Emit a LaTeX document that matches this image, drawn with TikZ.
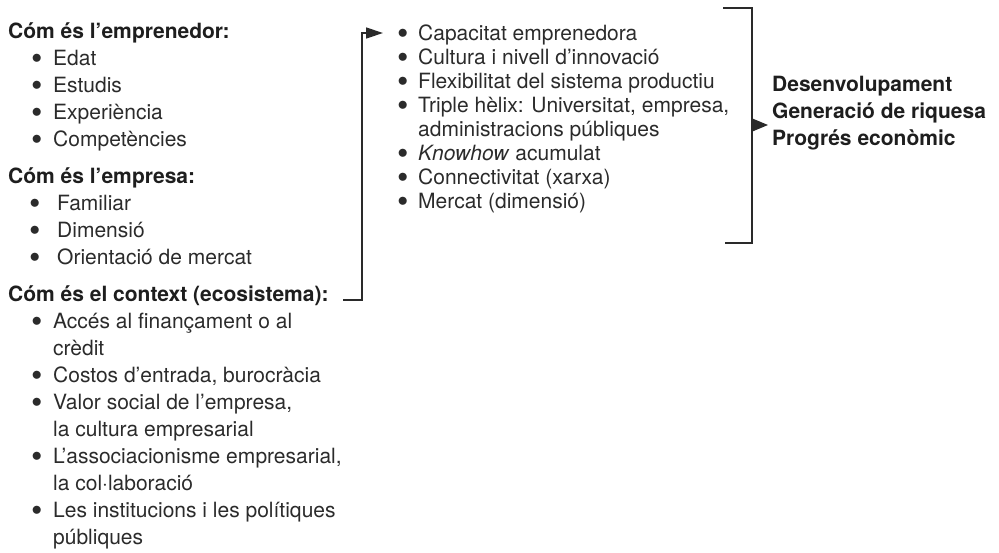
\documentclass[tikz,border=0pt]{standalone}
\usepackage{fontspec}
\usepackage{graphicx}
\setmainfont{TeX Gyre Heros}
\usetikzlibrary{arrows.meta}
\definecolor{ink}{HTML}{1E1E1E}
\definecolor{inkl}{HTML}{2B2B2B}
\definecolor{wire}{HTML}{2A2A2A}
\newcommand{\dotb}{\raisebox{-4.2pt}{\scalebox{1.55}{\textbullet}}}
\newcommand{\bA}[1]{\makebox[22pt][l]{\dotb}#1}
\newcommand{\bB}[1]{\makebox[28pt][l]{\dotb}#1}
\newcommand{\bM}[1]{\makebox[21pt][l]{\dotb}#1}
\newcommand{\cA}[1]{\hspace*{22pt}#1}
\newcommand{\cM}[1]{\hspace*{21pt}#1}
\begin{document}
\begin{tikzpicture}[x=1pt,y=-1pt]
\tikzset{
  hd/.style={anchor=base west, inner sep=0pt, text=ink, font=\fontsize{21}{27}\selectfont\bfseries},
  lst/.style={anchor=base west, inner sep=0pt, text=inkl, align=left, font=\fontsize{21}{27}\selectfont},
  lstm/.style={lst, font=\fontsize{21}{24}\selectfont},
  res/.style={anchor=base west, inner sep=0pt, text=ink, align=left, font=\fontsize{21}{27}\selectfont\bfseries},
  ln/.style={line width=1.4pt, draw=wire},
  tip/.style={-{Triangle[length=17pt,width=11pt]}},
  tipr/.style={-{Triangle[length=16pt,width=13pt]}}
}
\useasboundingbox (0,0) rectangle (999,552);

% left column (multi-line nodes: base = last line)
\node[hd] (hA) at (8,38) {Cóm és l’emprenedor:};
\node[lst] (lA) at (31,146) {\bA{Edat}\\ \bA{Estudis}\\ \bA{Experiència}\\ \bA{Competències}};
\node[hd] (hB) at (8,183) {Cóm és l’empresa:};
\node[lst] (lB) at (29,264) {\bB{Familiar}\\ \bB{Dimensió}\\ \bB{Orientació de mercat}};
\node[hd] (hC) at (8,301) {Cóm és el context (ecosistema):};
\node[lst] (lC) at (31,544) {\bA{Accés al finançament o al}\\ \cA{crèdit}\\ \bA{Costos d’entrada, burocràcia}\\ \bA{Valor social de l’empresa,}\\ \cA{la cultura empresarial}\\ \bA{L’associacionisme empresarial,}\\ \cA{la col·laboració}\\ \bA{Les institucions i les polítiques}\\ \cA{públiques}};

% middle column
\node[lstm] (mid) at (397,208) {\bM{Capacitat emprenedora}\\ \bM{Cultura i nivell d’innovació}\\ \bM{Flexibilitat del sistema productiu}\\ \bM{Triple hèlix: Universitat, empresa,}\\ \cM{administracions públiques}\\ \bM{\textit{Knowhow} acumulat}\\ \bM{Connectivitat (xarxa)}\\ \bM{Mercat (dimensió)}};

% right result
\node[res] (out) at (772,145) {Desenvolupament\\ Generació de riquesa\\ Progrés econòmic};

% connector from context to middle list
\coordinate (cs) at (343,300);
\coordinate (c1) at (362,300);
\coordinate (c2) at (362,33);
\coordinate (intip) at (383,33);
\draw[ln,tip] (cs) -- (c1) -- (c2) -- (intip);

% bracket
\coordinate (bt0) at (723,8);
\coordinate (bt1) at (752,8);
\coordinate (bb1) at (752,243);
\coordinate (bb0) at (725,243);
\draw[ln] (bt0) -- (bt1) -- (bb1) -- (bb0);
\coordinate (ra) at (752,125);
\coordinate (rtip) at (768,125);
\draw[ln,tipr] (ra) -- (rtip);
\end{tikzpicture}
\end{document}
